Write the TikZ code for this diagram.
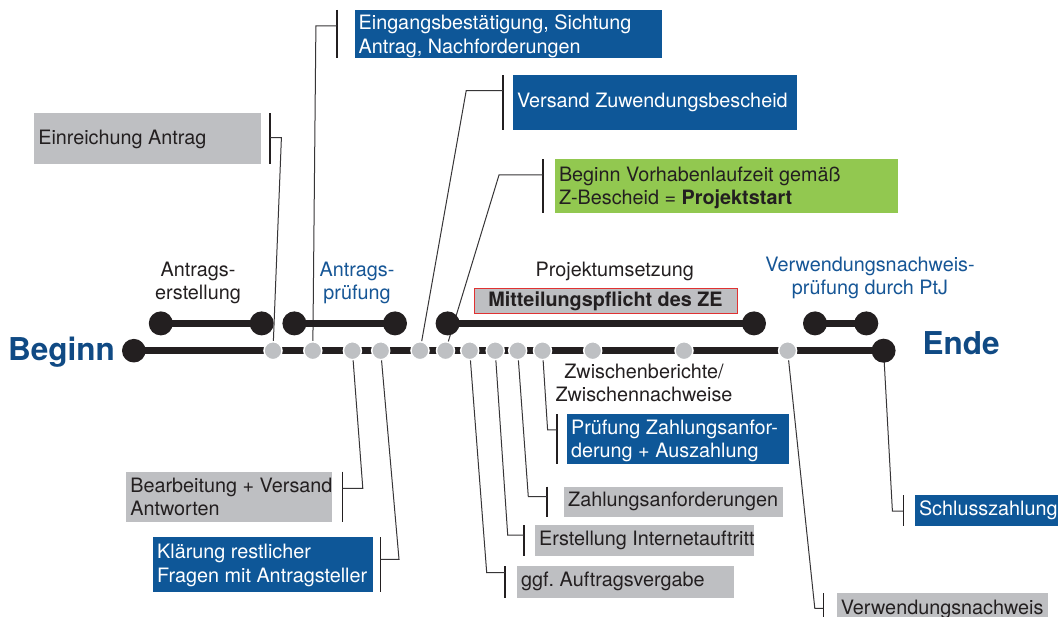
\documentclass[tikz,border=0pt]{standalone}
\usepackage{fontspec}
\setmainfont{TeX Gyre Heros}
\frenchspacing
\definecolor{txt}{RGB}{35,31,32}
\definecolor{connc}{RGB}{55,53,55}
\definecolor{boxgray}{RGB}{190,191,194}
\definecolor{boxblue}{RGB}{14,87,152}
\definecolor{boxgreen}{RGB}{146,200,80}
\definecolor{dotgray}{RGB}{190,192,195}
\definecolor{titleblue}{RGB}{16,74,132}
\definecolor{lblblue}{RGB}{22,86,150}
\definecolor{mitred}{RGB}{224,50,50}
\newcommand\lblfont{\fontsize{19.8}{23.5}\selectfont}
\newcommand\bigfont{\fontsize{31.5}{36}\selectfont\bfseries}
\begin{document}
\begin{tikzpicture}[x=1pt,y=-1pt,
  lbl/.style={font=\lblfont, inner sep=0pt, text=txt},
  box/.style={rectangle, inner sep=0pt, outer sep=0pt, anchor=north west},
  graybox/.style={box, fill=boxgray},
  bluebox/.style={box, fill=boxblue},
  greenbox/.style={box, fill=boxgreen},
  btext/.style={lbl, anchor=west, align=left},
  wtext/.style={btext, text=white},
  bracket/.style={draw=txt, line width=1.8pt},
  conn/.style={draw=connc, line width=1pt},
  dot/.style={circle, fill=dotgray, draw=white, line width=1.5pt, minimum size=18pt, inner sep=0pt},
  bigdot/.style={circle, fill=txt, minimum size=24pt, inner sep=0pt},
  bar/.style={draw=txt, line width=7pt}]
\useasboundingbox[fill=white] (0,0) rectangle (1063,617);

% ---- boxes ----
\node[graybox, minimum width=227.3pt, minimum height=50.4pt] (ein) at (34.1,113.3) {};
\node[btext] (eint) at ([xshift=4pt,yshift=-1pt]ein.west) {Einreichung Antrag};
\node[bluebox, minimum width=307.9pt, minimum height=47.7pt] (eing) at (354.5,10) {};
\node[wtext] (eingt) at ([xshift=4pt,yshift=-2.5pt]eing.west) {Eingangsbestätigung, Sichtung\\Antrag, Nachforderungen};
\node[bluebox, minimum width=284.1pt, minimum height=54.4pt] (vers) at (512.8,75.3) {};
\node[wtext] (verst) at ([xshift=4pt]vers.west) {Versand Zuwendungsbescheid};
\node[greenbox, minimum width=343.5pt, minimum height=54pt] (grn) at (554.8,159.3) {};
\node[btext] (grnt) at ([xshift=4pt,yshift=-1.5pt]grn.west) {Beginn Vorhabenlaufzeit gemäß\\Z-Bescheid = \textbf{Projektstart}};
\node[box, fill=boxgray, draw=mitred, line width=1pt, minimum width=263pt, minimum height=25pt] (mit) at (474,288.3) {};
\node[lbl, font=\lblfont\bfseries] (mitt) at (mit.center) {Mitteilungspflicht des ZE};
\node[graybox, minimum width=205.8pt, minimum height=50pt] (bear) at (126.2,471.7) {};
\node[btext] (beart) at ([xshift=4pt]bear.west) {Bearbeitung + Versand\\Antworten};
\node[bluebox, minimum width=220.4pt, minimum height=54.4pt] (klae) at (153,537.3) {};
\node[wtext] (klaet) at ([xshift=4pt,yshift=-1pt]klae.west) {Klärung restlicher\\Fragen mit Antragsteller};
\node[bluebox, minimum width=222.1pt, minimum height=50pt] (pruef) at (566.9,414.3) {};
\node[wtext] (prueft) at ([xshift=4pt,yshift=-1.5pt]pruef.west) {Prüfung Zahlungsanfor-\\derung + Auszahlung};
\node[graybox, minimum width=218.8pt, minimum height=30pt] (zahl) at (564,486.7) {};
\node[btext] (zahlt) at ([xshift=4pt]zahl.west) {Zahlungsanforderungen};
\node[graybox, minimum width=218.8pt, minimum height=30.7pt] (erst) at (535,525) {};
\node[btext] (erstt) at ([xshift=4pt]erst.west) {Erstellung Internetauftritt};
\node[graybox, minimum width=217pt, minimum height=31.7pt] (ggf) at (517,566) {};
\node[btext] (ggft) at ([xshift=4pt]ggf.west) {ggf. Auftragsvergabe};
\node[graybox, minimum width=211pt, minimum height=36pt] (vnw) at (836.6,593.3) {};
\node[btext, anchor=base west] (vnwt) at (840.6,614) {Verwendungsnachweis};
\node[bluebox, minimum width=143.5pt, minimum height=30.7pt] (schl) at (914.8,495) {};
\node[wtext] (schlt) at ([xshift=4pt]schl.west) {Schlusszahlung};

% ---- brackets ----
\draw[bracket] ([xshift=8.6pt]ein.north east) -- ([xshift=8.6pt]ein.south east);
\draw[bracket] ([xshift=-17.3pt]eing.north west) -- ([xshift=-17.3pt]eing.south west);
\draw[bracket] ([xshift=-10pt]vers.north west) -- ([xshift=-10pt]vers.south west);
\draw[bracket] ([xshift=-12pt]grn.north west) -- ([xshift=-12pt]grn.south west);
\draw[bracket] ([xshift=10.4pt]bear.north east) -- ([xshift=10.4pt]bear.south east);
\draw[bracket] ([xshift=7pt]klae.north east) -- ([xshift=7pt]klae.south east);
\draw[bracket] ([xshift=-10pt]pruef.north west) -- ([xshift=-10pt]pruef.south west);
\draw[bracket] ([xshift=-17pt]zahl.north west) -- ([xshift=-17pt]zahl.south west);
\draw[bracket] ([xshift=-11pt]erst.north west) -- ([xshift=-11pt]erst.south west);
\draw[bracket] ([xshift=-12pt]ggf.north west) -- ([xshift=-12pt]ggf.south west);
\draw[bracket] ([xshift=-13.2pt]vnw.north west) -- ([xshift=-13.2pt]vnw.south west);
\draw[bracket] ([xshift=-11.4pt]schl.north west) -- ([xshift=-11.4pt]schl.south west);

% ---- main line anchors ----
\coordinate (b0) at (133.8,350.7);
\coordinate (e0) at (883.6,350.7);
\foreach \n/\x in {1/273,2/312.8,3/352.4,4/380.7,5/420,6/445.5,7/469.7,8/495.2,9/517.7,10/542.5,11/592.7,12/684,13/787.6}
  \coordinate (p\n) at (\x,350.7);

% ---- elbow points ----
\coordinate (k1) at (281.4,137.7);  \coordinate (c1) at (270,137.7);
\coordinate (k2) at (315.9,26);     \coordinate (c2) at (337.2,26);
\coordinate (k5) at (466.2,90.7);   \coordinate (c5) at (502.8,90.7);
\coordinate (k6) at (499,175);      \coordinate (c6) at (542.8,175);
\coordinate (k3) at (362.8,488.3);  \coordinate (c3) at (342.6,488.3);
\coordinate (k4) at (399,559.3);    \coordinate (c4) at (380.4,559.3);
\coordinate (k7) at (486.7,572.7);  \coordinate (c7) at (505,572.7);
\coordinate (k8) at (507.7,535);    \coordinate (c8) at (524,535);
\coordinate (k9) at (528.3,496.7);  \coordinate (c9) at (547,496.7);
\coordinate (k10) at (547.6,430);   \coordinate (c10) at (556.9,430);
\coordinate (k13) at (814.8,608.3); \coordinate (c13) at (823.4,608.3);
\coordinate (ke) at (892.4,511);    \coordinate (ce) at (903.4,511);

% ---- connectors ----
\draw[conn] (p1) -- (k1) -- (c1);
\draw[conn] (p2) -- (k2) -- (c2);
\draw[conn] (p5) -- (k5) -- (c5);
\draw[conn] (p6) -- (k6) -- (c6);
\draw[conn] (p3) -- (k3) -- (c3);
\draw[conn] (p4) -- (k4) -- (c4);
\draw[conn] (p7) -- (k7) -- (c7);
\draw[conn] (p8) -- (k8) -- (c8);
\draw[conn] (p9) -- (k9) -- (c9);
\draw[conn] (p10) -- (k10) -- (c10);
\draw[conn] (p13) -- (k13) -- (c13);
\draw[conn] (e0) -- (ke) -- (ce);

% ---- phase bars ----
\node[bigdot] (a1) at (160.8,323.4) {};
\node[bigdot] (a2) at (261.7,323.4) {};
\draw[bar] (a1.center) -- (a2.center);
\node[bigdot] (q1) at (294.4,323.4) {};
\node[bigdot] (q2) at (395,323.4) {};
\draw[bar] (q1.center) -- (q2.center);
\node[bigdot] (u1) at (447.6,323.4) {};
\node[bigdot] (u2) at (754,323.4) {};
\draw[bar] (u1.center) -- (u2.center);
\node[bigdot] (v1) at (815,323.4) {};
\node[bigdot] (v2) at (866.3,323.4) {};
\draw[bar] (v1.center) -- (v2.center);

% ---- main line ----
\node[bigdot, minimum size=23.6pt] (beg) at (b0) {};
\node[bigdot] (end) at (e0) {};
\draw[bar] (beg.center) -- (end.center);
\foreach \n in {1,...,13} \node[dot] (d\n) at (p\n) {};

% ---- labels ----
\node[lbl, font=\bigfont, text=titleblue, anchor=base west] (beginn) at (8,361) {Beginn};
\node[lbl, font=\bigfont, text=titleblue, anchor=base west] (ende) at (922.5,354.3) {Ende};
\node[lbl, align=center, anchor=north] (l1) at (198,261.5) {Antrags-\\erstellung};
\node[lbl, align=center, anchor=north, text=lblblue] (l2) at (357,261.5) {Antrags-\\prüfung};
\node[lbl, anchor=north] (l3) at (614.7,261.5) {Projektumsetzung};
\node[lbl, align=center, anchor=north, text=lblblue] (l4) at (870,256.5) {Verwendungsnachweis-\\prüfung durch PtJ};
\node[lbl, align=center, anchor=north] (l5) at (644,363.5) {Zwischenberichte/\\Zwischennachweise};
\end{tikzpicture}
\end{document}
